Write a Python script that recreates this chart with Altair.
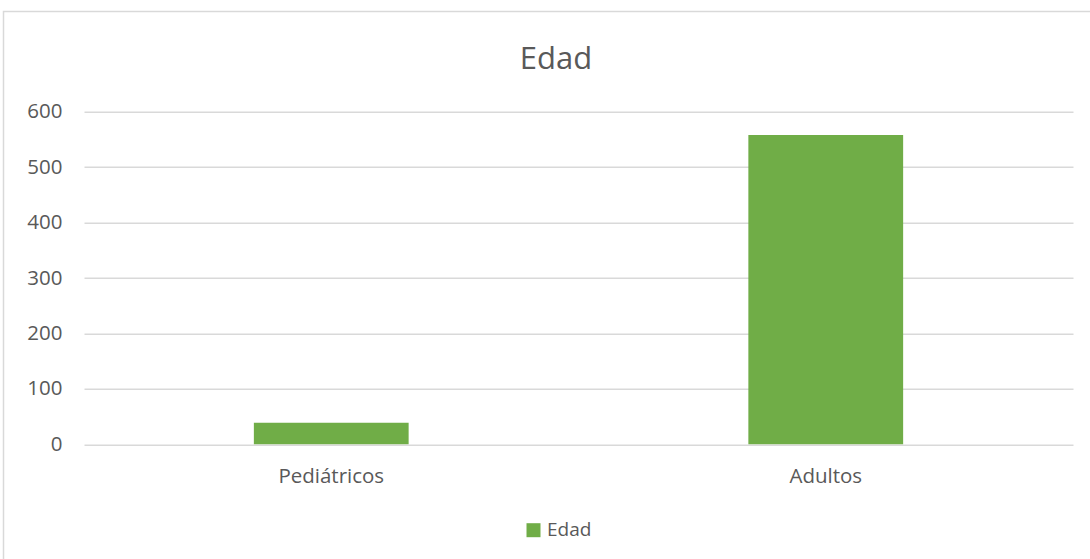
import altair as alt
import pandas as pd

categories = ["Pediátricos", "Adultos"]
values = [39, 558]
series = ["Edad", "Edad"]
y_ticks = [0, 100, 200, 300, 400, 500, 600]
title_text = ["Edad"]

df = pd.DataFrame({"categoria": categories, "valor": values, "serie": series})

FONT = "Open Sans"
TXT = "#595959"

bars = alt.Chart(df).mark_bar(color="#70ad47").encode(
    x=alt.X(
        "categoria:N",
        sort=categories,
        scale=alt.Scale(paddingInner=0.687, paddingOuter=0.3435),
        axis=alt.Axis(
            title=None, labelAngle=0, domain=False, ticks=False,
            labelFont=FONT, labelFontSize=20.5, labelColor=TXT,
            labelPadding=22, grid=False,
        ),
    ),
    y=alt.Y(
        "valor:Q",
        scale=alt.Scale(domain=[0, 600], nice=False),
        axis=alt.Axis(
            title=None, values=y_ticks, domain=False, ticks=False,
            grid=True, gridColor="#d9d9d9", gridWidth=1.5,
            labelFont=FONT, labelFontSize=20.5, labelColor=TXT,
            labelPadding=22,
        ),
    ),
    color=alt.Color(
        "serie:N",
        scale=alt.Scale(range=["#70ad47"]),
        legend=alt.Legend(
            orient="none", legendX=440, legendY=409, title=None,
            symbolType="square", symbolSize=196, symbolStrokeWidth=0,
            labelFont=FONT, labelFontSize=19, labelColor=TXT, labelOffset=4,
        ),
    ),
)

frame_df = pd.DataFrame({"k": [1]})
frame = alt.Chart(frame_df).mark_rect(
    fill="transparent", stroke="#d9d9d9", strokeWidth=1.5
).encode(
    x=alt.value(-80.5), x2=alt.value(1200),
    y=alt.value(-100.2), y2=alt.value(600),
)

title_df = pd.DataFrame({"t": title_text})
title = alt.Chart(title_df).mark_text(
    font=FONT, fontSize=31, color=TXT, align="center", baseline="alphabetic"
).encode(
    text="t:N",
    x=alt.value(472),
    y=alt.value(-42.7),
)

chart = alt.layer(frame, bars, title).properties(
    width=989,
    height=332.6,
    padding={"left": 84, "top": 111.7, "right": 17, "bottom": 114.7},
    autosize="none",
    background="white",
).configure_view(strokeWidth=0, stroke="transparent")

chart.save("out.html", embed_options={"renderer": "svg", "actions": False})
